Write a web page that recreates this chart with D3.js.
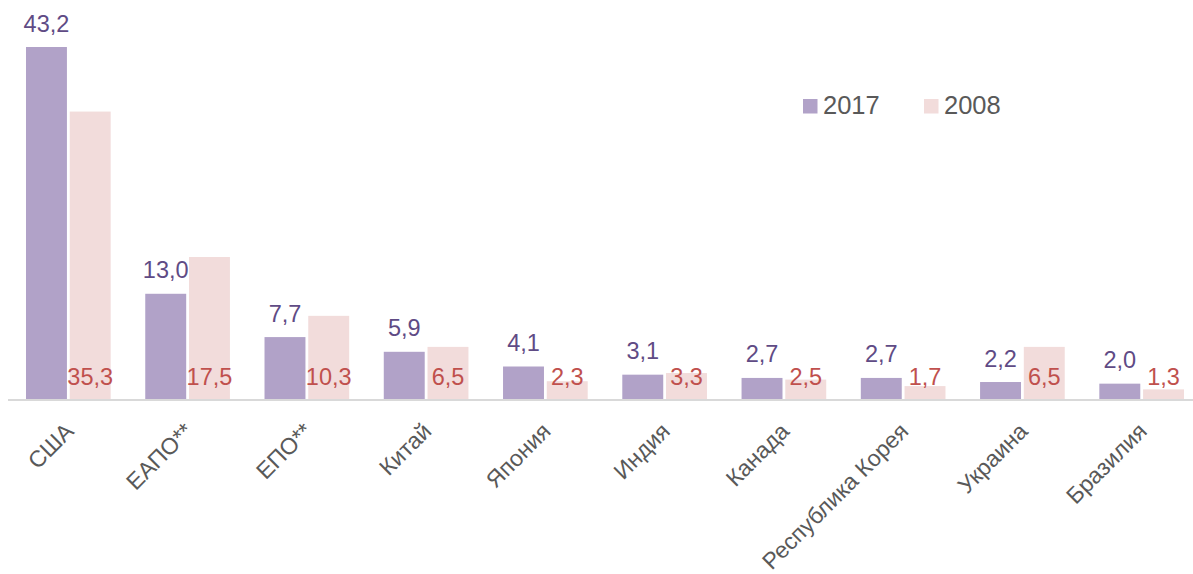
<!DOCTYPE html>
<html>
<head>
<meta charset="utf-8">
<script src="https://cdn.jsdelivr.net/npm/d3@7/dist/d3.min.js"></script>
<style>
  html, body { margin: 0; padding: 0; background: #ffffff; }
  svg { display: block; }
  text { font-family: "Liberation Sans", Arial, sans-serif; }
</style>
</head>
<body>
<svg id="chart" width="1193" height="574"></svg>
<script>
const categories = ["США", "ЕАПО**", "ЕПО**", "Китай", "Япония", "Индия", "Канада", "Республика Корея", "Украина", "Бразилия"];
const values2017 = [43.2, 13.0, 7.7, 5.9, 4.1, 3.1, 2.7, 2.7, 2.2, 2.0];
const values2008 = [35.3, 17.5, 10.3, 6.5, 2.3, 3.3, 2.5, 1.7, 6.5, 1.3];
const seriesNames = ["2017", "2008"];

const colors = { "2017": "#b1a2c8", "2008": "#f2dcdb" };
const labelColors = { "2017": "#5f4b85", "2008": "#c0504d" };

const svg = d3.select("#chart");
const W = 1193, H = 574;
const baseY = 400;

const x = d3.scaleBand().domain(categories).range([8.7, 8.7 + 10 * 119.26]).paddingInner(0.29).paddingOuter(0.145);
const inner = d3.scaleBand().domain(seriesNames).range([0, x.bandwidth()]).paddingInner(0.064);
const y = d3.scaleLinear().domain([0, 48]).range([baseY, baseY - 48 * 8.171]);

const fmt = v => d3.format(".1f")(v).replace(".", ",");

const data = categories.map((c, i) => ({ cat: c, "2017": values2017[i], "2008": values2008[i] }));

// bars
const g = svg.append("g");
seriesNames.forEach(s => {
  g.selectAll(".bar" + s).data(data).enter().append("rect")
    .attr("x", d => x(d.cat) + inner(s))
    .attr("width", inner.bandwidth())
    .attr("y", d => y(d[s]))
    .attr("height", d => y(0) - y(d[s]))
    .attr("fill", colors[s]);
});

// baseline
svg.append("line")
  .attr("x1", 8).attr("x2", W)
  .attr("y1", y(0)).attr("y2", y(0))
  .attr("stroke", "#d9d9d9").attr("stroke-width", 2);

// value labels 2017 (above bars)
g.selectAll(".lab2017").data(data).enter().append("text")
  .attr("x", d => x(d.cat) + inner("2017") + inner.bandwidth() / 2)
  .attr("y", d => y(d["2017"]) - 15.5)
  .attr("text-anchor", "middle")
  .attr("font-size", 23.5)
  .attr("fill", labelColors["2017"])
  .text(d => fmt(d["2017"]));

// value labels 2008 (inside base)
g.selectAll(".lab2008").data(data).enter().append("text")
  .attr("x", d => x(d.cat) + inner("2008") + inner.bandwidth() / 2)
  .attr("y", y(0) - 15.5)
  .attr("text-anchor", "middle")
  .attr("font-size", 23.5)
  .attr("fill", labelColors["2008"])
  .text(d => fmt(d["2008"]));

// category axis
const xAxis = d3.axisBottom(x).tickSize(0).tickPadding(0);
const ax = svg.append("g").attr("transform", `translate(0,${baseY})`).call(xAxis);
ax.select(".domain").remove();
ax.selectAll("text")
  .attr("font-size", 23)
  .attr("fill", "#595959")
  .attr("font-family", "'Liberation Sans', Arial, sans-serif")
  .attr("text-anchor", "end")
  .attr("dy", "0.35em")
  .attr("transform", "translate(1,27) rotate(-45)");

// legend
const legend = svg.append("g");
const legendItems = [{ s: "2017", x: 803 }, { s: "2008", x: 924 }];
legendItems.forEach(it => {
  legend.append("rect").attr("x", it.x).attr("y", 99).attr("width", 14.5).attr("height", 14.5).attr("fill", colors[it.s]);
  legend.append("text").attr("x", it.x + 20).attr("y", 113.5)
    .attr("font-size", 25.5).attr("fill", "#595959").text(it.s);
});
</script>
</body>
</html>
